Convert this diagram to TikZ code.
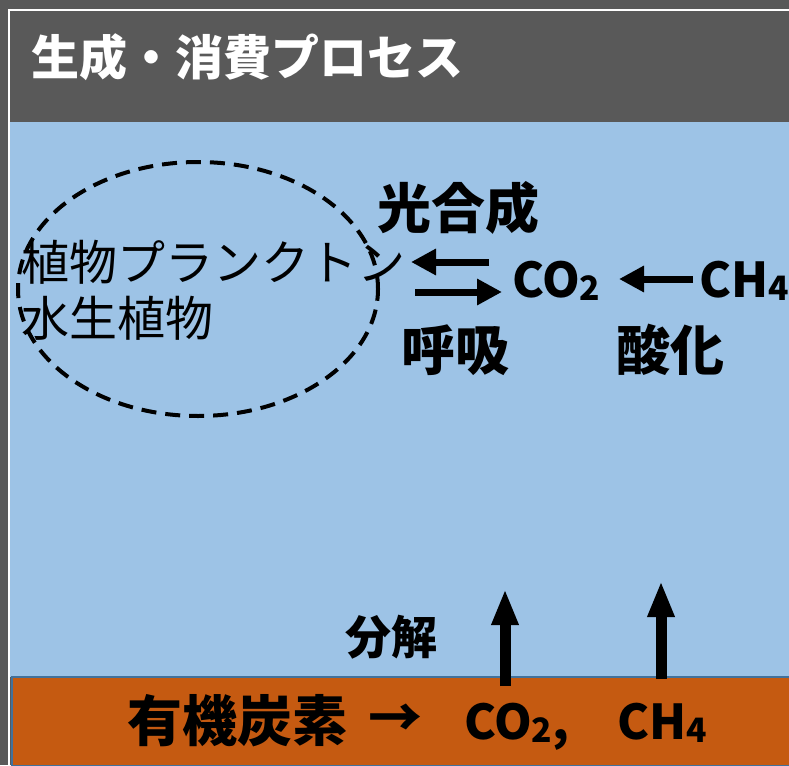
\documentclass[tikz,border=0pt]{standalone}
\usepackage{fontspec}
\usepackage{graphicx}
\setmainfont{Noto Sans CJK JP}
\usetikzlibrary{arrows.meta,shapes.geometric}
\definecolor{hdrgray}{HTML}{595959}
\definecolor{water}{HTML}{9DC3E6}
\definecolor{sediment}{HTML}{C55A11}
\definecolor{sedline}{HTML}{41719C}
\newcommand\chemsub[1]{\raisebox{-0.07em}{\scalebox{0.7}{#1}}}
\tikzset{
  fs/.style={font=\fontsize{#1}{#1}\selectfont},
  bfs/.style={font=\fontsize{#1}{#1}\selectfont\bfseries},
  lbl/.style={inner sep=0pt, text=black},
  harrow/.style={line width=7pt, -{Triangle[length=25pt,width=25pt]}},
  varrow/.style={line width=11pt, -{Triangle[length=36pt,width=25pt]}},
  dashring/.style={draw=black, dash pattern=on 15pt off 9pt, line width=4pt},
}
\begin{document}
\begin{tikzpicture}[x=1pt,y=-1pt]
\useasboundingbox (0,0) rectangle (789,765);
% backgrounds
\fill[hdrgray] (0,0) rectangle (789,765);
\fill[water] (10,122) rectangle (789,677);
\draw[white, line width=2pt] (789,10) -- (9,10) -- (9,765);
\filldraw[fill=sediment, draw=sedline, line width=1.5pt] (12,677) rectangle (790,766);
% header
\node[lbl, bfs=48, text=white, anchor=west] (title) at (31,57) {生成・消費プロセス};
% plankton ellipse
\coordinate (ellc) at (198,289);
\draw[dashring] (ellc) ellipse [x radius=180pt, y radius=127pt];
\node[lbl, fs=48, anchor=west] (pl1) at (21,262) {植物プランクトン};
\node[lbl, fs=48, anchor=west] (pl2) at (21,318) {水生植物};
% labels
\node[lbl, bfs=54, anchor=center] (photo) at (458,208) {光合成};
\node[lbl, bfs=54, anchor=center] (resp) at (455,350) {呼吸};
\node[lbl, bfs=54, anchor=center] (oxid) at (670,350) {酸化};
\node[lbl, bfs=48, anchor=base west] (co2) at (512,297) {CO\chemsub{2}};
\node[lbl, bfs=48, anchor=base west] (ch4) at (699,297) {CH\chemsub{4}};
\node[lbl, bfs=46, anchor=center] (decomp) at (391,637) {分解};
% bottom bar text
\node[lbl, bfs=55, anchor=center] (orgc) at (237,721) {有機炭素};
\node[lbl, bfs=54, anchor=center] (arr) at (395,721) {→};
\node[lbl, bfs=48, anchor=base west] (co2b) at (464,739) {CO\chemsub{2},};
\node[lbl, bfs=48, anchor=base west] (ch4b) at (617,739) {CH\chemsub{4}};
% arrow end points
\coordinate (a1s) at (489,262);
\coordinate (a1e) at (411,262);
\coordinate (a2s) at (415,292);
\coordinate (a2e) at (502,292);
\coordinate (a3s) at (693,279);
\coordinate (a3e) at (619,279);
\coordinate (u1s) at (505,686);
\coordinate (u1e) at (505,589);
\coordinate (u2s) at (661,679);
\coordinate (u2e) at (661,581);
% arrows
\draw[harrow] (a1s) -- (a1e);
\draw[harrow] (a2s) -- (a2e);
\draw[harrow] (a3s) -- (a3e);
\draw[varrow] (u1s) -- (u1e);
\draw[varrow] (u2s) -- (u2e);
\end{tikzpicture}
\end{document}
